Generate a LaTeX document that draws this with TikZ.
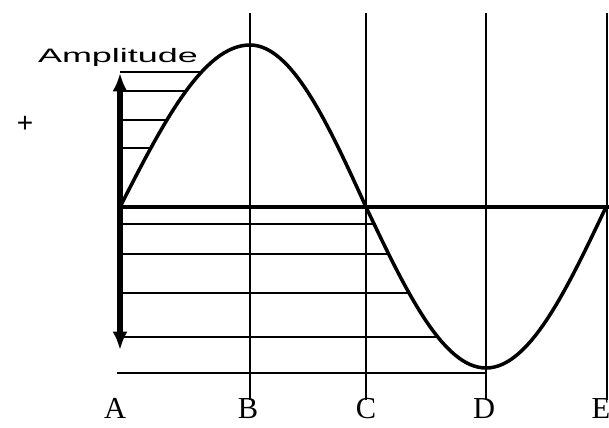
\documentclass[tikz,border=0pt]{standalone}
\usepackage{graphicx}
\usepackage{fontspec}
\setmainfont{Liberation Serif}
\newfontfamily\arialfont{Liberation Sans}
\usetikzlibrary{arrows.meta}
\tikzset{
  wave/.style={line width=3pt,line join=round},
  zero/.style={line width=3pt},
  vline/.style={line width=2pt},
  hline/.style={line width=1.4pt},
  amp/.style={line width=5pt,{Latex[length=5.5mm,width=4.5mm]}-{Latex[length=5.5mm,width=4.5mm]}},
  betu/.style={font=\fontsize{26}{26}\selectfont,anchor=base,inner sep=0pt},
  felirat/.style={font=\arialfont\fontsize{16.6}{18}\selectfont,inner sep=0pt},
}

\begin{document}
\begin{tikzpicture}[x=0.03cm,y=-0.03cm]
  \useasboundingbox (0,0) rectangle (609,428);
  % points of the wave
  \coordinate (A0) at (120,207);
  \coordinate (Bp) at (250,45);
  \coordinate (C0) at (366,207);
  \coordinate (Dp) at (486,368);
  \coordinate (E0) at (606,207);
  \coordinate (Zr) at (609,207);
  % vertical lines
  \foreach \n/\x in {B/250,C/366,D/486,E/607}{
    \coordinate (\n t) at (\x,13);
    \coordinate (\n b) at (\x,400);
    \draw[vline] (\n t) -- (\n b);
  }
  % horizontal lines up to the wave
  \foreach \y in {72,91,120,148}{
    \pgfmathsetmacro\xe{120+130*asin((207-\y)/162)/90}
    \draw[hline] (120,\y) -- (\xe,\y);
  }
  \foreach \y in {224,254,293,337}{
    \pgfmathsetmacro\xe{366+120*asin((\y-207)/161)/90}
    \draw[hline] (120,\y) -- (\xe,\y);
  }
  \draw[hline] (117,373) -- (Dp |- 0,373);
  % zero line and wave
  \draw[zero] (A0) -- (Zr);
  \draw[wave] (A0) sin (Bp) cos (C0) sin (Dp) cos (E0);
  % amplitude arrow
  \coordinate (At) at (120,73);
  \coordinate (Ab) at (120,350);
  \draw[amp] (At) -- (Ab);
  \node[felirat] (ampl) at (118,57) {\scalebox{1.85}[1]{Amplitude}};
  \node[felirat,font=\arialfont\fontsize{24}{24}\selectfont] (plus) at (25,124) {+};
  % letters
  \foreach \n/\x in {A/115,B/248,C/366,D/484,E/601}
    \node[betu] (l\n) at (\x,419) {\n};
\end{tikzpicture}
\end{document}
